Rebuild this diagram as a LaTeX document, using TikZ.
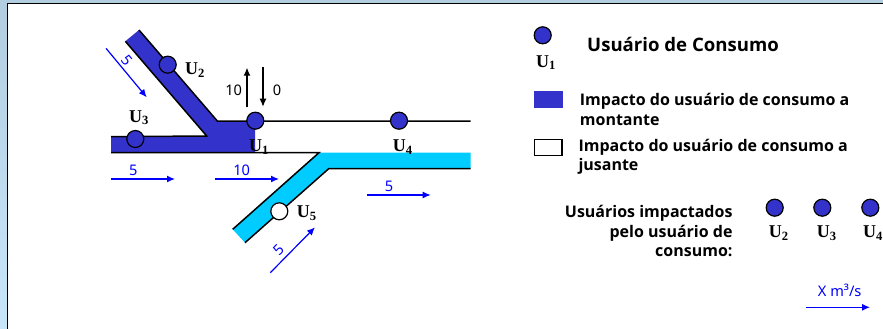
\documentclass[tikz,border=0pt]{standalone}
\usepackage{fontspec}
\setmainfont{Liberation Serif}
\newfontfamily\legendfont{Noto Sans}
\newfontfamily\legendbold{Open Sans Bold}
\usepackage{tikz}
\usetikzlibrary{arrows.meta,positioning}

\definecolor{upblue}{HTML}{3333CC}
\definecolor{downcyan}{HTML}{00CCFF}
\definecolor{framebg}{HTML}{B2CDE0}
\definecolor{framelow}{HTML}{C8E6FA}
\definecolor{flowblue}{HTML}{0000FF}

\tikzset{
  user/.style={circle, draw=black, fill=upblue, line width=1.2pt, minimum size=17pt, inner sep=0pt},
  userlabel/.style={font=\fontsize{18}{18}\selectfont\bfseries, inner sep=0pt},
  flow/.style={draw=flowblue, line width=1.2pt, -{Latex[length=8pt,width=7pt]}},
  flownum/.style={font=\legendfont\fontsize{14.6}{14.6}\selectfont, text=flowblue, inner sep=0pt},
  demand/.style={draw=black, line width=1.2pt, -{Latex[length=8pt,width=7pt]}},
  demandnum/.style={font=\legendfont\fontsize{14.6}{14.6}\selectfont, inner sep=0pt},
  legendtext/.style={font=\legendbold\fontsize{16}{19.5}\selectfont, inner sep=0pt, align=left, anchor=west},
  edge/.style={draw=black, line width=1.5pt}
}

\begin{document}
\begin{tikzpicture}[x=1pt, y=-1pt]
  \useasboundingbox (0,0) rectangle (883,329);
  \shade[top color=framebg, bottom color=framelow] (0,0) rectangle (883,329);
  \draw[fill=white, line width=1.2pt] (7.5,3.5) rectangle (890,335);

  % bands
  \fill[upblue] (125.3,41.3) -- (139,30) -- (217.3,121) -- (255,121) -- (255,152.7) -- (111,152.7) -- (111,136.7) -- (206.7,136) -- cycle;
  \fill[downcyan] (319,152.7) -- (470.7,152.7) -- (470.7,168.7) -- (328.7,168.7) -- (245,242.7) -- (232.7,229.3) -- cycle;
  \draw[edge] (139,30) -- (217.3,121) -- (470.7,121);
  \draw[edge] (125.3,41.3) -- (206.7,136) -- (111,136.7);
  \draw[edge] (111,152.7) -- (319,152.7) -- (232.7,229.3);
  \draw[edge] (470.7,168.7) -- (328.7,168.7) -- (245,242.7);

  % users on the river
  \node[user] (u2) at (167.7,64.7) {};
  \node[user] (u3) at (135.3,139) {};
  \node[user] (u1) at (255.3,120.7) {};
  \node[user] (u4) at (399,120.7) {};
  \node[user, fill=white] (u5) at (279.3,211.3) {};
  \node[userlabel] (lu2) at (195,70) {U\textsubscript{2}};
  \node[userlabel] (lu3) at (139,117.7) {U\textsubscript{3}};
  \node[userlabel] (lu1) at (259,147) {U\textsubscript{1}};
  \node[userlabel] (lu4) at (402.7,147) {U\textsubscript{4}};
  \node[userlabel] (lu5) at (306.7,213.3) {U\textsubscript{5}};

  % flows
  \coordinate (f1a) at (106,48.3);
  \coordinate (f1b) at (146.7,97.3);
  \coordinate (f2a) at (111,179);
  \coordinate (f2b) at (175,179);
  \coordinate (f3a) at (215,179);
  \coordinate (f3b) at (279,179);
  \coordinate (f4a) at (367,195);
  \coordinate (f4b) at (430.7,195);
  \coordinate (f5a) at (270.3,272.7);
  \coordinate (f5b) at (315,227.3);
  \draw[flow] (f1a) -- (f1b);
  \draw[flow] (f2a) -- (f2b);
  \draw[flow] (f3a) -- (f3b);
  \draw[flow] (f4a) -- (f4b);
  \draw[flow] (f5a) -- (f5b);
  \node[flownum, rotate=-50] (n1) at (127.3,60) {5};
  \node[flownum] (n2) at (133.3,170) {5};
  \node[flownum] (n3) at (241.7,170.7) {10};
  \node[flownum] (n4) at (389,186) {5};
  \node[flownum, rotate=45] (n5) at (279,250) {5};

  % withdrawal and return
  \coordinate (d1a) at (247,107.3);
  \coordinate (d1b) at (247,67.7);
  \coordinate (d2a) at (263,67.3);
  \coordinate (d2b) at (263,106.7);
  \draw[demand] (d1a) -- (d1b);
  \draw[demand] (d2a) -- (d2b);
  \node[demandnum] (n10) at (233.7,90) {10};
  \node[demandnum] (n0) at (277,90) {0};

  % legend
  \node[user] (k1) at (542.7,35.3) {};
  \node[userlabel] (lk1) at (546,62.7) {U\textsubscript{1}};
  \node[legendtext, font=\legendbold\fontsize{18.6}{18.6}\selectfont] (title) at (587,44.8) {Usuário de Consumo};
  \node[draw=none, fill=upblue, minimum width=29pt, minimum height=17pt, inner sep=0pt] (kup) at (548.5,99.5) {};
  \node[legendtext] (tup) at (579.7,109.3) {Impacto do usuário de consumo a\\montante};
  \node[draw=black, fill=white, line width=1.1pt, minimum width=27.5pt, minimum height=16pt, inner sep=0pt] (kdown) at (548.2,147.2) {};
  \node[legendtext] (tdown) at (578.3,157) {Impacto do usuário de consumo a\\jusante};
  \node[legendtext, align=right, anchor=east] (timp) at (732.7,231.2) {Usuários impactados\\pelo usuário de\\consumo:};
  \node[user] (k2) at (774.7,207.7) {};
  \node[user] (k3) at (822.3,207.7) {};
  \node[user] (k4) at (870.3,207.7) {};
  \node[userlabel] (lk2) at (778.7,233) {U\textsubscript{2}};
  \node[userlabel] (lk3) at (826.7,233) {U\textsubscript{3}};
  \node[userlabel] (lk4) at (873,233) {U\textsubscript{4}};
  \coordinate (ka) at (806.3,307.3);
  \coordinate (kb) at (870,307.3);
  \draw[flow] (ka) -- (kb);
  \node[flownum] (unit) at (839.7,290.7) {X m³/s};
\end{tikzpicture}
\end{document}
